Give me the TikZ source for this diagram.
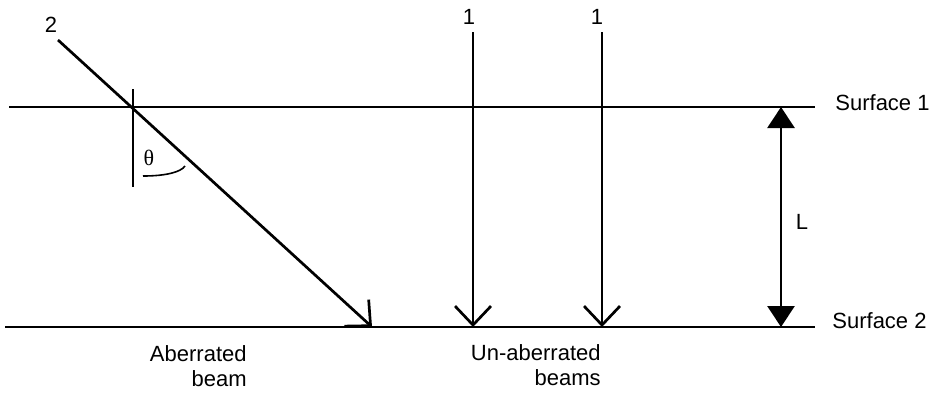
\documentclass[tikz,border=0pt]{standalone}
\usepackage{fontspec}
\setmainfont{Liberation Sans}
\newfontfamily\thetafont{Liberation Serif}
\usetikzlibrary{arrows.meta}

\begin{document}
\begin{tikzpicture}[x=0.5pt,y=-0.5pt,font=\fontsize{11}{12.5}\selectfont]
\tikzset{surf/.style={line width=0.8pt},
  ray/.style={line width=1.35pt,-{Straight Barb[length=9.5pt,width=18pt]}},
  lbl/.style={inner sep=0pt}}
\useasboundingbox (0,0) rectangle (931,392);
% surfaces
\coordinate (s1a) at (9,107); \coordinate (s1b) at (815,107);
\coordinate (s2a) at (5,327); \coordinate (s2b) at (815,327);
\draw[surf] (s1a) -- (s1b);
\draw[surf] (s2a) -- (s2b);
\node[lbl,anchor=west] (surf1) at (835,103) {Surface 1};
\node[lbl,anchor=west] (surf2) at (832,321) {Surface 2};
% aberrated beam
\coordinate (ab0) at (58,40); \coordinate (ab1) at (372,327);
\draw[ray] (ab0) -- (ab1);
\node[lbl] (n2) at (51,25) {2};
\coordinate (tk0) at (133,89); \coordinate (tk1) at (133,187);
\draw[line width=1.35pt] (tk0) -- (tk1);
\coordinate (th0) at (143,176); \coordinate (th1) at (185,166);
\draw[surf] (th0) .. controls (166,176) and (181,172) .. (th1);
\node[lbl] (theta) at (149,158) {\thetafont θ};
% un-aberrated beams
\coordinate (ua0) at (473,32); \coordinate (ua1) at (473,327);
\coordinate (ub0) at (602,32); \coordinate (ub1) at (602,327);
\draw[ray] (ua0) -- (ua1);
\draw[ray] (ub0) -- (ub1);
\node[lbl] (n1a) at (469,17) {1};
\node[lbl] (n1b) at (597,17) {1};
% thickness L
\coordinate (la) at (781,107); \coordinate (lb) at (781,327);
\draw[line width=1.35pt,{Triangle[length=10.5pt,width=13.5pt]}-{Triangle[length=10.5pt,width=13.5pt]}] (la) -- (lb);
\node[lbl] (lL) at (802,222) {L};
% captions
\node[lbl,align=right,anchor=north east] (abcap) at (247,345) {Aberrated\\beam};
\node[lbl,align=right,anchor=north east] (uacap) at (601,344) {Un-aberrated\\beams};
\end{tikzpicture}
\end{document}
